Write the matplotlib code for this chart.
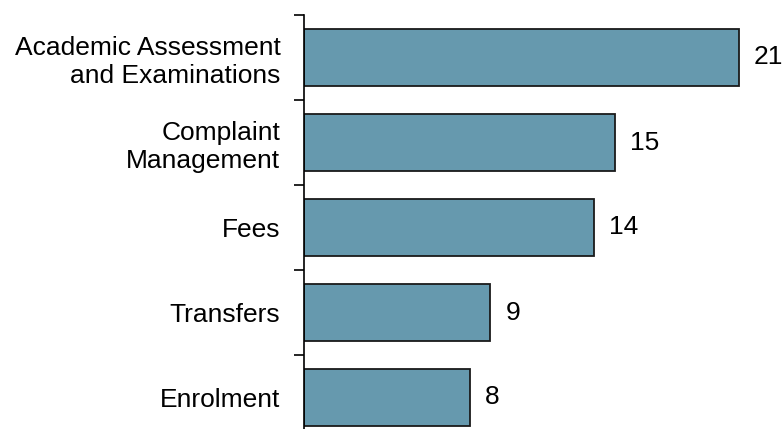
import matplotlib
matplotlib.use("Agg")
import matplotlib.pyplot as plt
import numpy as np

categories = ["Academic Assessment\nand Examinations", "Complaint\nManagement", "Fees", "Transfers", "Enrolment"]
values = [21, 15, 14, 9, 8]

plt.rcParams['font.family'] = ['Liberation Sans', 'DejaVu Sans']

W, H = 783, 429
fig = plt.figure(figsize=(W/100, H/100), dpi=100)
left = 304 / W
right = 783 / W
top = (H - 15) / H
bottom = (H - 440) / H
ax = fig.add_axes([left, bottom, right - left, top - bottom])

px_per_unit = (739 - 304) / 21
ax.set_xlim(0, (783 - 304) / px_per_unit)
y = np.arange(len(categories))
ax.barh(y, values, height=0.66, color='#6699AE', edgecolor='#1a1a1a', linewidth=1.3)
ax.set_ylim(len(categories) - 0.5, -0.5)

for yi, v in zip(y, values):
    ax.text(v + 15 / px_per_unit, yi, str(v), va='center', ha='left', fontsize=19, color='black')

ax.set_yticks(y)
ax.set_yticklabels(categories, fontsize=19, multialignment='right', linespacing=1.22)
ax.tick_params(axis='y', which='major', length=0, pad=17)
ax.set_yticks(np.arange(-0.5, len(categories)), minor=True)
ax.tick_params(axis='y', which='minor', length=7, width=1.2, color='black')
ax.set_xticks([])

for s in ['top', 'right', 'bottom']:
    ax.spines[s].set_visible(False)
ax.spines['left'].set_linewidth(1.2)

fig.savefig('out.png', dpi=100)
